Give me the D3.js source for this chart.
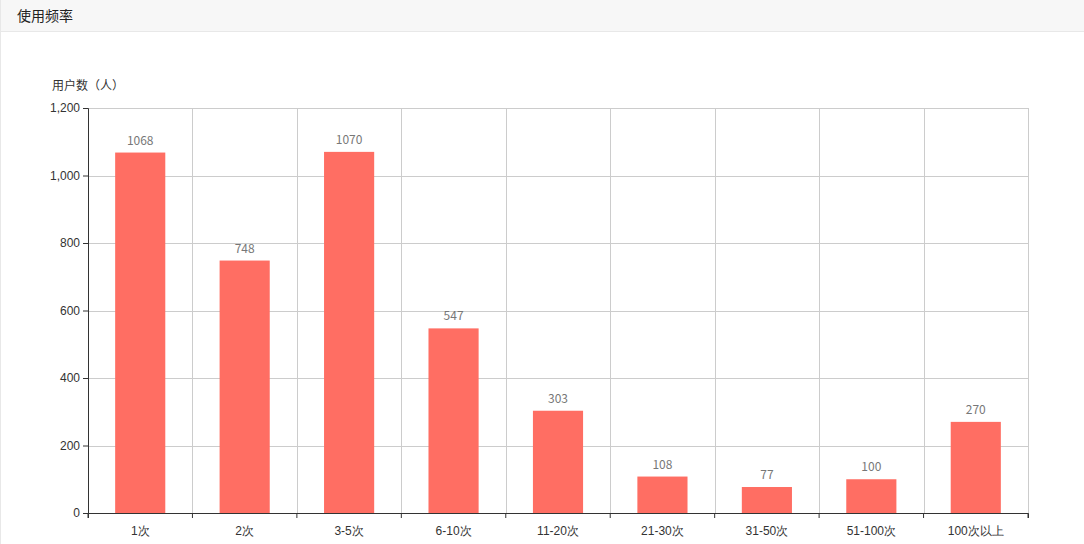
<!DOCTYPE html>
<html><head><meta charset="utf-8">
<script src="https://cdn.jsdelivr.net/npm/d3@7"></script>
<style>
body{margin:0;background:#fff;font-family:"Microsoft YaHei","Noto Sans CJK SC",sans-serif;}
#head{position:absolute;left:0;top:0;width:1084px;height:32px;background:#f7f7f7;border-bottom:1px solid #e8e8e8;border-left:1px solid #e8e8e8;box-sizing:border-box;font-size:14px;line-height:30px;padding-left:16px;color:#222;}
#chart{position:absolute;left:0;top:0;}
</style></head>
<body>
<div id="head">使用频率</div>
<div id="chart"></div>
<script>
const categories = ["1次","2次","3-5次","6-10次","11-20次","21-30次","31-50次","51-100次","100次以上"];
const users = [1068,748,1070,547,303,108,77,100,270];
const yTicks = [0,200,400,600,800,1000,1200];

const m = {left:88, right:1028, top:108, bottom:513};
const svg = d3.select("#chart").append("svg").attr("width",1084).attr("height",544)
  .style("font-family","'Microsoft YaHei','Noto Sans CJK SC',sans-serif");
svg.append("line").attr("x1",0.5).attr("x2",0.5).attr("y1",32).attr("y2",544).attr("stroke","#e8e8e8");

const x = d3.scaleBand().domain(categories).range([m.left,m.right]).paddingInner(0).paddingOuter(0);
const y = d3.scaleLinear().domain([0,1200]).range([m.bottom,m.top]);

// grid
svg.append("g").selectAll("line").data(yTicks.slice(1)).join("line")
  .attr("x1",m.left).attr("x2",m.right).attr("y1",d=>Math.round(y(d))+0.5).attr("y2",d=>Math.round(y(d))+0.5)
  .attr("stroke","#ccc");
svg.append("g").selectAll("line").data(categories.slice(1).concat([null])).join("line")
  .attr("x1",d=>Math.round(d?x(d):m.right)+0.5).attr("x2",d=>Math.round(d?x(d):m.right)+0.5)
  .attr("y1",m.top).attr("y2",m.bottom).attr("stroke","#ccc");

const bw = x.bandwidth()*0.48;
svg.append("g").selectAll("rect").data(users).join("rect")
  .attr("x",(d,i)=>x(categories[i])+(x.bandwidth()-bw)/2).attr("width",bw)
  .attr("y",d=>y(d)).attr("height",d=>m.bottom-y(d)).attr("fill","#ff6e63");
svg.append("g").selectAll("text").data(users).join("text")
  .attr("x",(d,i)=>x(categories[i])+x.bandwidth()/2).attr("y",d=>y(d)-8)
  .attr("text-anchor","middle").attr("font-size",12).attr("fill","#777").text(d=>d);

// axes
const yAxis = svg.append("g").attr("transform",`translate(${m.left},0)`)
  .call(d3.axisLeft(y).tickValues(yTicks).tickSize(5).tickFormat(d3.format(",")));
const xAxis = svg.append("g").attr("transform",`translate(0,${m.bottom})`)
  .call(d3.axisBottom(x).tickSize(5).tickSizeOuter(5));
xAxis.selectAll(".tick line").attr("transform",`translate(${-x.bandwidth()/2},0)`);
xAxis.append("line").attr("x1",m.right).attr("x2",m.right).attr("y1",0).attr("y2",5).attr("stroke","#333");
[yAxis,xAxis].forEach(a=>{
  a.select(".domain").attr("stroke","#333");
  a.selectAll(".tick line").attr("stroke","#333");
  a.selectAll("text").attr("font-size",12).attr("fill","#333").style("font-family","inherit");
});
xAxis.selectAll("text").attr("dy","1.2em");
svg.append("text").attr("x",52).attr("y",90).attr("font-size",12).attr("fill","#333").text("用户数（人）");
</script>
</body></html>
